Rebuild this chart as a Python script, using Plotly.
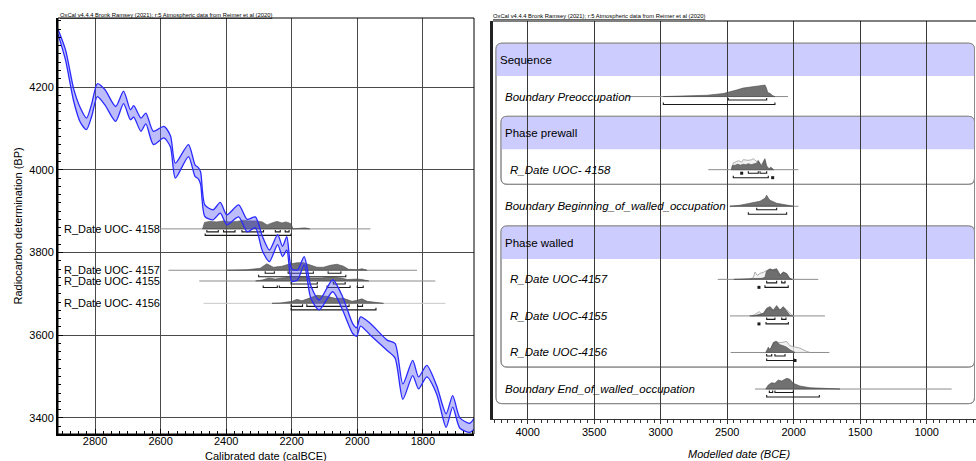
import plotly.graph_objects as go

W, H = 976, 461

# ---------------- calibration curve (IntCal band) -------------
cal_year = [2913, 2890, 2865, 2845, 2826, 2810, 2793, 2770, 2737, 2713, 2692, 2682, 2660, 2645,
            2622, 2590, 2570, 2555, 2515, 2495, 2485, 2478, 2465, 2440, 2418, 2398, 2362, 2336,
            2311, 2290, 2268, 2243, 2228, 2215, 2200, 2182, 2162, 2142, 2116, 2075, 2045, 2014,
            2002, 1990, 1960, 1909, 1885, 1861, 1831, 1813, 1788, 1758, 1729, 1709, 1687, 1657, 1644]
cal_upper = [4340, 4290, 4195, 4150, 4125, 4160, 4208, 4194, 4153, 4190, 4145, 4155, 4125, 4137,
             4093, 4105, 4082, 4016, 4061, 4012, 4005, 3995, 3915, 3903, 3921, 3891, 3915, 3880,
             3886, 3840, 3806, 3843, 3815, 3838, 3760, 3758, 3790, 3720, 3685, 3734, 3693, 3628,
             3618, 3644, 3628, 3588, 3580, 3482, 3539, 3499, 3527, 3478, 3410, 3454, 3400, 3387, 3399]
cal_lower = [4328, 4265, 4165, 4115, 4097, 4130, 4177, 4157, 4117, 4160, 4121, 4127, 4093, 4111,
             4061, 4077, 4055, 3980, 4032, 3984, 3978, 3965, 3887, 3879, 3895, 3867, 3886, 3850,
             3860, 3805, 3778, 3819, 3790, 3806, 3730, 3734, 3770, 3690, 3661, 3705, 3661, 3604,
             3597, 3622, 3600, 3563, 3545, 3445, 3502, 3470, 3499, 3458, 3377, 3426, 3375, 3365, 3372]

# ---------------- left panel: calibrated dates -------------
left_names = ["R_Date UOC- 4158", "R_Date UOC- 4157", "R_Date UOC- 4155", "R_Date UOC- 4156"]
left_bp = [3857, 3757, 3731, 3677]
left_line = [(2602, 1960), (2576, 1818), (2482, 1762), (2469, 1731)]
left_years = [
    [2472, 2466, 2450, 2430, 2408, 2388, 2368, 2348, 2328, 2308, 2290, 2275, 2260, 2245, 2230,
     2218, 2208, 2202, 2196, 2175, 2160, 2145],
    [2400, 2337, 2296, 2276, 2256, 2230, 2210, 2184, 2164, 2143, 2123, 2103, 2082, 2062, 2042,
     2027, 2001, 1986, 1970],
    [2310, 2290, 2270, 2250, 2230, 2200, 2170, 2140, 2110, 2080, 2050, 2030, 2000, 1985, 1965],
    [2260, 2235, 2199, 2184, 2169, 2149, 2123, 2093, 2067, 2042, 2016, 2001, 1986, 1970, 1940, 1920],
]
left_prob = [
    [0, 6.5, 7.5, 7, 8, 7, 7.5, 8.5, 8, 8, 7, 4, 6, 7.5, 6, 7, 6, 5, 0, 1, 1, 0],
    [0, 0.5, 2, 6.5, 3, 4, 6, 7.5, 7.5, 5, 3, 3, 5, 6, 4, 1, 0.5, 1.5, 0],
    [0, 1, 3, 2, 3, 4, 4, 3, 3, 4, 3, 1.5, 2, 1.5, 0],
    [0, 0.3, 2, 4, 2.5, 5, 8, 7, 5, 5, 2, 3, 4.5, 2, 0.5, 0],
]
left_r68 = [[(2459, 2424), (2408, 2373), (2352, 2286), (2250, 2235), (2220, 2208)],
            [(2281, 2253), (2211, 2134), (2089, 2050)],
            [(2202, 2122), (2073, 2037)],
            [(2202, 2167), (2154, 2025), (1999, 1984)]]
left_r95 = [[(2464, 2202)],
            [(2301, 2035)],
            [(2287, 2244), (2238, 2122), (2092, 2022), (2000, 1982)],
            [(2202, 1943)]]

# ---------------- right panel: model structure -------------
row_names = ["Sequence", "Boundary Preoccupation", "Phase prewall", "R_Date UOC- 4158",
             "Boundary Beginning_of_walled_occupation", "Phase walled", "R_Date UOC-4157",
             "R_Date UOC-4155", "R_Date UOC-4156", "Boundary End_of_walled_occupation"]
row_kind = ["seq", "item", "phase", "date", "item", "phase", "date", "date", "date", "item"]
groups = [("seq", 0, 9), ("phase", 2, 3), ("phase", 5, 8)]

row_line = {1: (3250, 2043), 3: (2642, 1965), 4: (2479, 1965), 6: (2571, 1815),
            7: (2479, 1765), 8: (2474, 1732), 9: (2291, 812)}
post_years = {
    1: [2980, 2780, 2650, 2530, 2480, 2430, 2380, 2330, 2280, 2250, 2230, 2216, 2205, 2195, 2175, 2160, 2141],
    3: [2468, 2462, 2440, 2420, 2400, 2380, 2360, 2340, 2320, 2300, 2280, 2266, 2252, 2241, 2229,
        2216, 2205, 2195, 2185, 2173, 2160, 2150],
    4: [2480, 2404, 2329, 2253, 2216, 2203, 2190, 2178, 2128, 2053, 2000],
    6: [2450, 2329, 2291, 2240, 2216, 2205, 2190, 2178, 2160, 2140, 2128, 2112, 2100, 2090, 2078,
        2065, 2053, 2040, 2028, 2010],
    7: [2330, 2291, 2228, 2203, 2178, 2153, 2128, 2103, 2078, 2053, 2028, 2005],
    8: [2210, 2191, 2178, 2153, 2128, 2103, 2078, 2053, 2028, 2003, 1990],
    9: [2210, 2191, 2166, 2141, 2116, 2090, 2053, 2028, 2003, 1953, 1877, 1752, 1652],
}
post_prob = {
    1: [0, 0.6, 1.3, 3, 4.5, 6.5, 8.5, 9.5, 10, 10.5, 11, 11.5, 8.5, 4, 3, 1, 0],
    3: [0, 4, 4.5, 5.5, 4.5, 5.5, 5, 6, 5, 5.5, 6.5, 9, 5, 3.5, 8, 11, 4, 1.5, 0.5, 2.5, 1, 0],
    4: [0, 1, 3, 5, 8, 11, 8, 6, 3, 1, 0],
    6: [0, 0.3, 0.6, 1, 2, 8, 9.5, 10.5, 9.5, 10.5, 10.7, 7, 4, 6, 7.3, 6.5, 5.7, 3, 0.7, 0],
    7: [0, 0.3, 2.7, 7.7, 9.3, 6, 10.3, 6, 9.3, 4.3, 0.5, 0],
    8: [0, 5.3, 2.7, 10, 11, 7.7, 6.7, 5.3, 2.7, 1, 0],
    9: [0, 4, 6.3, 5.7, 9, 8, 10.7, 9.7, 5.7, 3, 1.3, 0.3, 0],
}
prior_years = {
    3: [2468, 2454, 2416, 2391, 2379, 2341, 2316, 2304, 2279, 2266, 2250, 2235, 2216, 2200, 2185, 2173, 2150],
    6: [2330, 2303, 2291, 2273, 2253, 2228, 2203, 2178, 2153, 2128, 2103, 2078, 2053, 2028, 2010],
    7: [2310, 2278, 2258, 2241, 2220, 2203, 2178, 2153, 2128, 2103, 2078, 2065, 2053, 2040, 2015, 1995],
    8: [2210, 2166, 2141, 2116, 2090, 2053, 2028, 1990, 1953, 1902, 1877],
}
prior_prob = {
    3: [0, 6.7, 9, 7.5, 10, 9.3, 10, 11, 8.3, 9, 5, 6, 9, 3, 1, 2, 0],
    6: [0, 2, 7.3, 4, 6, 7, 9, 9.5, 9, 8, 4, 6.5, 6, 1, 0],
    7: [0, 2.7, 4.3, 1.7, 2.5, 6, 7, 5, 7, 6, 7, 7.5, 6, 4.5, 1, 0],
    8: [0, 5, 11.3, 10, 10, 11, 6.7, 5.3, 4.3, 1, 0],
}
row_r68 = {1: [(2492, 2203)], 3: [(2391, 2391), (2341, 2266), (2253, 2203)], 4: [(2278, 2128)],
           6: [(2203, 2128), (2090, 2065)], 7: [(2203, 2141), (2090, 2058)],
           8: [(2203, 2165), (2141, 2065)], 9: [(2183, 2158), (2141, 2003)]}
row_r95 = {1: [(2980, 2141)], 3: [(2454, 2191), (2158, 2158)], 4: [(2341, 2053)],
           6: [(2261, 2261), (2216, 2041)], 7: [(2261, 2261), (2208, 2040)],
           8: [(2203, 1998), (1990, 1990)], 9: [(2203, 1807)]}

# ---------------- geometry (pixel layout of the two panels) -------------
L_X = [2913, 1644]; L_Y = [3361, 4367]
L_PX = (58, 474, 18, 434)           # left, right, top, bottom
R_X = [4261, 629]; R_Y = [9.82, -1.067]
R_PX = (493, W, 21, 419)
bp_per_px = (L_Y[1] - L_Y[0]) / (L_PX[3] - L_PX[2])
row_per_px = (R_Y[0] - R_Y[1]) / (R_PX[3] - R_PX[2])
yr_per_px_l = (L_X[0] - L_X[1]) / (L_PX[1] - L_PX[0])
yr_per_px_r = (R_X[0] - R_X[1]) / (R_PX[1] - R_PX[0])

POST_FILL = "rgba(88,88,88,0.85)"
POST_LINE = "#4a4a4a"
PRIOR_FILL = "rgba(238,238,238,0.75)"
PRIOR_LINE = "#9a9a9a"
FONT = "Liberation Sans, Arial, sans-serif"

fig = go.Figure()


def add_poly(xs, ys, base, scale, up, xa, ya, fill, line, lw=0.6):
    px = list(xs) + [xs[-1], xs[0]]
    py = [base + up * v * scale for v in ys] + [base, base]
    fig.add_trace(go.Scatter(x=px, y=py, mode="lines", fill="toself", fillcolor=fill,
                             line=dict(color=line, width=lw), xaxis=xa, yaxis=ya,
                             hoverinfo="skip"))


def add_brackets(ranges, y, tick, xa, ya):
    bx, by, dx, dy = [], [], [], []
    for a, b in ranges:
        if a == b:
            dx.append(a); dy.append(y)
        else:
            bx += [a, a, b, b, None]
            by += [y + tick, y, y, y + tick, None]
    if bx:
        fig.add_trace(go.Scatter(x=bx, y=by, mode="lines", line=dict(color="#1a1a1a", width=1.1),
                                 xaxis=xa, yaxis=ya, hoverinfo="skip"))
    if dx:
        fig.add_trace(go.Scatter(x=dx, y=dy, mode="markers",
                                 marker=dict(symbol="square", size=3, color="#1a1a1a"),
                                 xaxis=xa, yaxis=ya, hoverinfo="skip"))


# ---- left panel distributions
for i in range(len(left_names)):
    b = left_bp[i]
    col = "#c8c8c8" if i == 3 else "#8c8c8c"
    fig.add_trace(go.Scatter(x=list(left_line[i]), y=[b, b], mode="lines",
                             line=dict(color=col, width=1), xaxis="x", yaxis="y", hoverinfo="skip"))
    add_poly(left_years[i], left_prob[i], b, bp_per_px, 1, "x", "y", POST_FILL, POST_LINE)
    add_brackets(left_r68[i], b - 3 * bp_per_px, 2 * bp_per_px, "x", "y")
    add_brackets(left_r95[i], b - 6.5 * bp_per_px, 2 * bp_per_px, "x", "y")

# ---- calibration curve on top
fig.add_trace(go.Scatter(x=cal_year, y=cal_lower, mode="lines",
                         line=dict(color="#2a2aff", width=1.3, shape="spline", smoothing=0.7),
                         xaxis="x", yaxis="y", hoverinfo="skip"))
fig.add_trace(go.Scatter(x=cal_year, y=cal_upper, mode="lines", fill="tonexty",
                         fillcolor="rgba(90,90,245,0.40)",
                         line=dict(color="#2a2aff", width=1.3, shape="spline", smoothing=0.7),
                         xaxis="x", yaxis="y", hoverinfo="skip"))

annotations = []
for i, name in enumerate(left_names):
    annotations.append(dict(x=L_X[0] - 4 * yr_per_px_l, y=left_bp[i], xref="x", yref="y",
                            text=name, showarrow=False, xanchor="left", yanchor="middle",
                            font=dict(size=11, color="black", family=FONT)))

# ---- right panel: boxes and bands
shapes = []


def rounded(L, R, T, B, band_bottom=None):
    dx = 6 * yr_per_px_r * (1 if R > L else -1)
    dy = 6 * row_per_px
    if band_bottom is None:
        return (f"M {L+dx},{T} L {R-dx},{T} Q {R},{T} {R},{T+dy} L {R},{B-dy} Q {R},{B} {R-dx},{B} "
                f"L {L+dx},{B} Q {L},{B} {L},{B-dy} L {L},{T+dy} Q {L},{T} {L+dx},{T} Z")
    return (f"M {L+dx},{T} L {R-dx},{T} Q {R},{T} {R},{T+dy} L {R},{band_bottom} "
            f"L {L},{band_bottom} L {L},{T+dy} Q {L},{T} {L+dx},{T} Z")


box_right = R_X[1] + 1.5 * yr_per_px_r
for kind, r0, r1 in groups:
    left_px = 3 if kind == "seq" else 8
    Lx = R_X[0] - left_px * yr_per_px_r
    T = r0 - 0.46
    B = r1 + 0.40
    shapes.append(dict(type="path", path=rounded(Lx, box_right, T, B), xref="x2", yref="y2",
                       fillcolor="white", line=dict(color="#8a8a8a", width=1), layer="below"))
    shapes.append(dict(type="path", path=rounded(Lx, box_right, T, B, band_bottom=r0 + 0.44),
                       xref="x2", yref="y2", fillcolor="#ccccff", line=dict(width=0), layer="below"))
    shapes.append(dict(type="path", path=rounded(Lx, box_right, T, B), xref="x2", yref="y2",
                       line=dict(color="#8a8a8a", width=1), layer="below"))

indent = {"seq": 5, "phase": 10, "item": 10, "date": 15}
for r, name in enumerate(row_names):
    kind = row_kind[r]
    italic = kind in ("item", "date")
    annotations.append(dict(x=R_X[0] - indent[kind] * yr_per_px_r, y=r, xref="x2", yref="y2",
                            text=f"<i>{name}</i>" if italic else name, showarrow=False,
                            xanchor="left", yanchor="middle",
                            font=dict(size=11.5, color="black", family=FONT)))
    if r in row_line:
        fig.add_trace(go.Scatter(x=list(row_line[r]), y=[r, r], mode="lines",
                                 line=dict(color="#8c8c8c", width=1), xaxis="x2", yaxis="y2",
                                 hoverinfo="skip"))
    if r in prior_years:
        add_poly(prior_years[r], prior_prob[r], r, row_per_px, -1, "x2", "y2", PRIOR_FILL, PRIOR_LINE, 0.8)
    if r in post_years:
        add_poly(post_years[r], post_prob[r], r, row_per_px, -1, "x2", "y2", POST_FILL, POST_LINE)
    if r in row_r68:
        add_brackets(row_r68[r], r + 3.5 * row_per_px, -2 * row_per_px, "x2", "y2")
    if r in row_r95:
        add_brackets(row_r95[r], r + 8 * row_per_px, -2 * row_per_px, "x2", "y2")

# frames
shapes.append(dict(type="rect", xref="x domain", yref="y domain", x0=0, x1=1, y0=0, y1=1,
                   line=dict(color="black", width=1), layer="above"))
shapes.append(dict(type="line", xref="x2 domain", yref="y2 domain", x0=0, x1=1, y0=1, y1=1,
                   line=dict(color="black", width=1), layer="above"))

credit = "<u>OxCal v4.4.4 Bronk Ramsey (2021); r:5 Atmospheric data from Reimer et al (2020)</u>"
annotations += [
    dict(x=L_PX[0] / W, y=1 - 15 / H, xref="paper", yref="paper", text=credit, showarrow=False,
         xanchor="left", yanchor="middle", font=dict(size=5.8, color="black", family=FONT)),
    dict(x=R_PX[0] / W - 2 / W, y=1 - 16 / H, xref="paper", yref="paper", text=credit, showarrow=False,
         xanchor="left", yanchor="middle", font=dict(size=5.8, color="black", family=FONT)),
    dict(x=17.5 / W, y=1 - 226 / H, xref="paper", yref="paper", text="Radiocarbon determination (BP)",
         textangle=-90, showarrow=False, xanchor="center", yanchor="middle",
         font=dict(size=11, color="black", family=FONT)),
    dict(x=266 / W, y=1 - 455.5 / H, xref="paper", yref="paper", text="Calibrated date (calBCE)",
         showarrow=False, xanchor="center", yanchor="middle", font=dict(size=11, color="black", family=FONT)),
    dict(x=739 / W, y=1 - 453.5 / H, xref="paper", yref="paper", text="<i>Modelled date (BCE)</i>",
         showarrow=False, xanchor="center", yanchor="middle", font=dict(size=11, color="black", family=FONT)),
]

fig.update_layout(
    width=W, height=H, margin=dict(l=0, r=0, t=0, b=0), paper_bgcolor="white", plot_bgcolor="white",
    showlegend=False, font=dict(family=FONT, size=11, color="black"),
    xaxis=dict(domain=[L_PX[0] / W, L_PX[1] / W], range=L_X, anchor="y", dtick=200, tick0=0,
               showgrid=True, gridcolor="#4a4a4a", gridwidth=1, zeroline=False, showline=True,
               linecolor="black", linewidth=2, ticks="inside", ticklen=5, tickcolor="black",
               minor=dict(dtick=25, tick0=0, ticks="inside", ticklen=3, tickcolor="black", showgrid=False),
               tickfont=dict(size=11, color="black"), ticklabelstandoff=-4),
    yaxis=dict(domain=[1 - L_PX[3] / H, 1 - L_PX[2] / H], range=L_Y, anchor="x", dtick=200, tick0=0,
               showgrid=True, gridcolor="#4a4a4a", gridwidth=1, zeroline=False, showline=True,
               linecolor="black", linewidth=2, ticks="inside", ticklen=5, tickcolor="black",
               minor=dict(dtick=20, tick0=0, ticks="inside", ticklen=3, tickcolor="black", showgrid=False),
               tickfont=dict(size=11, color="black")),
    xaxis2=dict(domain=[R_PX[0] / W, 1], range=R_X, anchor="y2", dtick=500, tick0=0,
                showgrid=True, gridcolor="#3a3a3a", gridwidth=1, zeroline=False, showline=True,
                linecolor="#333", linewidth=1, ticks="outside", ticklen=4, tickcolor="#333",
                minor=dict(dtick=50, tick0=0, ticks="outside", ticklen=3, tickcolor="#333", showgrid=False),
                tickfont=dict(size=11, color="black"), ticklabelstandoff=-1),
    yaxis2=dict(domain=[1 - R_PX[3] / H, 1 - R_PX[2] / H], range=R_Y, anchor="x2",
                showticklabels=False, showgrid=False, zeroline=False, showline=True,
                linecolor="#222", linewidth=2.5, ticks=""),
    shapes=shapes, annotations=annotations,
)

fig.write_html("out.html", config={"displayModeBar": False},
               post_script="document.body.style.margin='0px';document.body.style.overflow='hidden';")
